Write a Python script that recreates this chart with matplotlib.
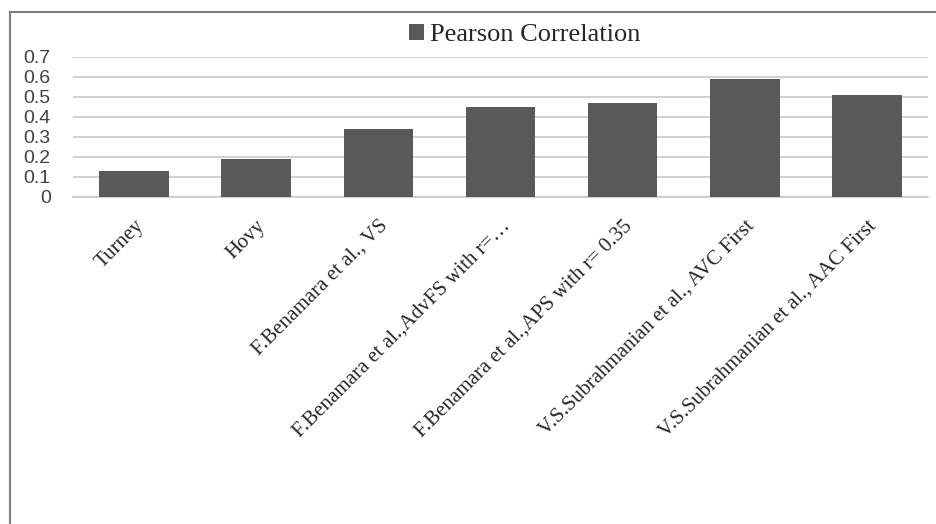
import matplotlib.pyplot as plt
from matplotlib.lines import Line2D
import numpy as np

methods = ["Turney", "Hovy", "F.Benamara et al., VS",
           "F.Benamara et al.,AdvFS with r=\u2026",
           "F.Benamara et al.,APS with r= 0.35",
           "V.S.Subrahmanian et al., AVC First",
           "V.S.Subrahmanian et al., AAC First"]
pearson = [0.13, 0.19, 0.34, 0.45, 0.47, 0.59, 0.51]
yticks = [0, 0.1, 0.2, 0.3, 0.4, 0.5, 0.6, 0.7]

fig = plt.figure(figsize=(9.36, 5.24), dpi=100)
ax = fig.add_axes([73 / 936, 1 - 197 / 524, 855 / 936, 140 / 524])

x = np.arange(len(methods))
ax.bar(x, pearson, width=0.57, color="#595959", zorder=3, label="Pearson Correlation")

ax.set_xlim(-0.5, len(methods) - 0.5)
ax.set_ylim(0, 0.7)
ax.set_yticks(yticks)
ax.set_yticklabels([f"{v:g}" for v in yticks], family="Liberation Sans",
                   fontsize=14, color="#404040")
ax.yaxis.grid(True, color="#c8c8c8", linewidth=1.2, zorder=0)
ax.set_xticks(x)
ax.set_xticklabels(methods, rotation=45, ha="right", rotation_mode="anchor",
                   family="Liberation Serif", fontsize=15, color="#262626")
ax.tick_params(axis="x", length=0, pad=14)
ax.tick_params(axis="y", length=0, pad=16)
for s in ["top", "right", "left"]:
    ax.spines[s].set_visible(False)
ax.spines["bottom"].set_color("#c8c8c8")
ax.spines["bottom"].set_linewidth(1.2)

leg = fig.legend(loc="center", bbox_to_anchor=(525 / 936, 1 - 35 / 524),
                 frameon=False, handlelength=0.55, handleheight=0.55,
                 handletextpad=0.25, prop={"family": "Liberation Serif", "size": 19})
for t in leg.get_texts():
    t.set_color("#262626")

# outer chart frame
fig.add_artist(Line2D([10 / 936, 10 / 936], [0, 1 - 12 / 524],
                      transform=fig.transFigure, color="#7f7f7f", linewidth=1.5))
fig.add_artist(Line2D([10 / 936, 1], [1 - 12 / 524, 1 - 12 / 524],
                      transform=fig.transFigure, color="#7f7f7f", linewidth=1.5))

fig.savefig("out.png", dpi=100)
